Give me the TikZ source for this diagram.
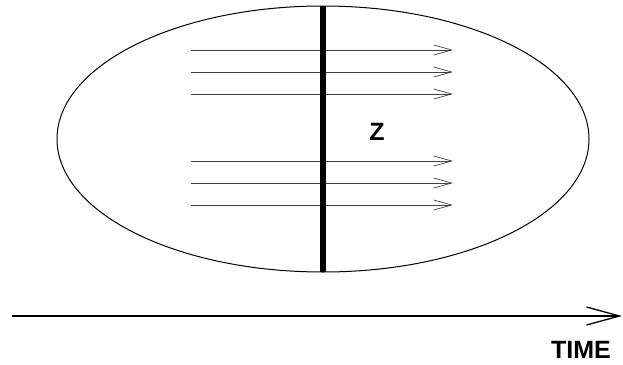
\documentclass[tikz,border=0pt]{standalone}
\usepackage{fontspec}
\setmainfont{Liberation Sans}
\usetikzlibrary{arrows.meta,shapes.geometric}
\begin{document}
\begin{tikzpicture}[x=1pt,y=-1pt,
  flow/.style={draw=black!75, line width=0.8pt, -{Straight Barb[length=18pt,width=10pt,line width=0.7pt]}},
  lbl/.style={font=\bfseries\fontsize{25}{30}\selectfont, inner sep=0pt}]
\useasboundingbox (0,0) rectangle (623,364);
\node[draw, line width=1pt, ellipse, minimum width=532pt, minimum height=266pt, inner sep=0pt] (ell) at (323,139) {};
\foreach \y [count=\i] in {50,72,94,161,183,205}{
  \coordinate (s\i) at (191,\y);
  \coordinate (e\i) at (453,\y);
  \draw[flow] (s\i) -- (e\i);
}
\coordinate (bt) at (323,6);
\coordinate (bb) at (323,272);
\draw[line width=6pt] (bt) -- (bb);
\node[lbl] (z) at (377,132) {Z};
\coordinate (ts) at (12,316);
\coordinate (te) at (622,316);
\draw[line width=1.3pt, -{Straight Barb[length=33pt,width=18pt,line width=1.3pt]}] (ts) -- (te);
\node[lbl] (time) at (581,350) {TIME};
\end{tikzpicture}
\end{document}
